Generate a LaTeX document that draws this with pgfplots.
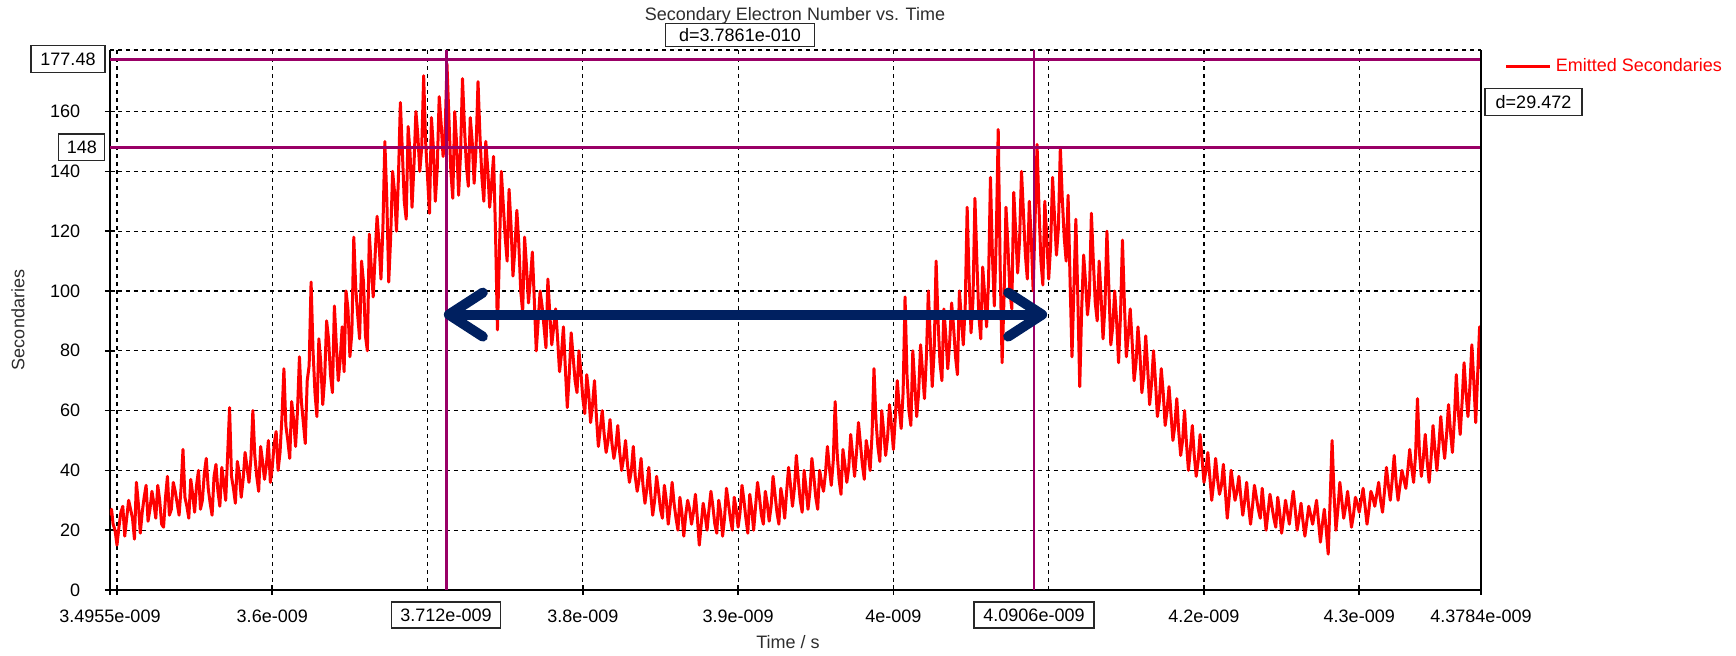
\documentclass[border=0pt]{standalone}
\usepackage{fontspec}
\setmainfont{Liberation Sans}
\usepackage{pgfplots}
\pgfplotsset{compat=1.18}
\usetikzlibrary{arrows.meta}
\definecolor{purp}{RGB}{153,0,102}
\definecolor{navyarrow}{RGB}{0,32,96}
\definecolor{labgray}{RGB}{45,45,45}
\definecolor{boxgray}{RGB}{40,40,40}
\begin{document}
\begin{tikzpicture}[font=\fontsize{9}{11}\selectfont]
\useasboundingbox (-55pt,-33pt) rectangle (813pt,295pt);
\begin{axis}[
 at={(0,0)}, anchor=south west,
 scale only axis, width=685.5pt, height=270pt,
 xmin=3.4955, xmax=4.3784, ymin=0, ymax=180.6,
 axis x line*=bottom, axis y line*=left,
 axis line style={black, line width=0.9pt},
 xtick={3.4955,3.5,3.6,3.8,3.9,4.0,4.2,4.3,4.3784},
 xticklabels={3.4955e-009,,3.6e-009,3.8e-009,3.9e-009,4e-009,4.2e-009,4.3e-009,4.3784e-009},
 ytick={0,20,40,60,80,100,120,140,160},
 yticklabels={0,20,40,60,80,100,120,140,160},
 extra x ticks={3.5,3.6,3.7,3.8,3.9,4.0,4.1,4.2,4.3},
 extra x tick labels={},
 extra x tick style={grid=major, major tick length=0pt},
 extra y ticks={180.6},
 extra y tick labels={},
 extra y tick style={grid=major, major tick length=0pt},
 ymajorgrids,
 grid style={black, line width=0.6pt, dash pattern=on 2.2pt off 1.8pt},
 tick align=center, major tick length=5pt,
 tick style={black, line width=0.8pt},
 xticklabel style={anchor=center, yshift=-10.5pt, text height=6.5pt, text depth=0pt, inner sep=0pt},
 yticklabel style={anchor=east, xshift=-12.2pt, inner sep=0pt},
 legend style={at={(1.0172,0.969)}, anchor=west, draw=none, fill=none, inner sep=0pt, text=red, font=\fontsize{9}{11}\selectfont},
 legend image code/.code={\draw[red, line width=1.4pt] (0pt,0pt) -- (22pt,0pt);},
 legend cell align=left,
]
\addplot[red, line width=1.5pt, line join=round] coordinates {
(3.4955,25) (3.4965,27) (3.4975,22) (3.49875,20) (3.5,15) (3.50125,21) (3.5025,26) (3.50375,28) (3.505,18) (3.50625,24) (3.5075,30) (3.50875,27) (3.51,24) (3.51125,17) (3.5125,36) (3.51375,29) (3.515,19) (3.51625,26) (3.5175,31) (3.51875,35) (3.52,23)
(3.52125,27) (3.5225,33) (3.52375,29) (3.525,24) (3.52625,35) (3.5275,30) (3.52875,22) (3.53,21) (3.53125,31) (3.5325,38) (3.53375,25) (3.535,27) (3.53625,36) (3.5375,33) (3.53875,29) (3.54,25) (3.54125,34) (3.5425,47) (3.54375,31) (3.545,28)
(3.54625,24) (3.5475,37) (3.54875,32) (3.55,26) (3.55125,35) (3.5525,40) (3.55375,27) (3.555,30) (3.55625,39) (3.5575,44) (3.55875,34) (3.56,29) (3.56125,25) (3.5625,38) (3.56375,42) (3.565,33) (3.56625,28) (3.5675,41) (3.56875,36) (3.57,30)
(3.57125,45) (3.5725,61) (3.57375,38) (3.575,34) (3.57625,29) (3.5775,43) (3.57875,39) (3.58,31) (3.58125,37) (3.5825,46) (3.58375,41) (3.585,36) (3.58625,44) (3.5875,60) (3.58875,45) (3.59,38) (3.59125,33) (3.5925,48) (3.59375,43) (3.595,37)
(3.59625,42) (3.5975,50) (3.59875,36) (3.6,41) (3.60125,49) (3.6025,53) (3.60375,40) (3.605,46) (3.60625,58) (3.6075,74) (3.60875,55) (3.61,50) (3.61125,44) (3.6125,63) (3.61375,57) (3.615,48) (3.61625,60) (3.6175,78) (3.61875,63) (3.62,56)
(3.62125,49) (3.6225,70) (3.62375,75) (3.625,103) (3.62625,80) (3.6275,66) (3.62875,58) (3.63,84) (3.63125,76) (3.6325,62) (3.63375,71) (3.635,90) (3.63625,84) (3.6375,72) (3.63875,66) (3.64,95) (3.64125,82) (3.6425,70) (3.64375,77) (3.645,88)
(3.64625,73) (3.6475,100) (3.64875,94) (3.65,78) (3.65125,86) (3.6525,118) (3.65375,101) (3.655,92) (3.65625,84) (3.6575,110) (3.65875,103) (3.66,85) (3.66125,80) (3.6625,119) (3.66375,108) (3.665,98) (3.66625,112) (3.6675,125) (3.66875,116) (3.67,104)
(3.67125,121) (3.6725,150) (3.67375,131) (3.675,103) (3.67625,118) (3.6775,140) (3.67875,133) (3.68,120) (3.68125,138) (3.6825,163) (3.68375,147) (3.685,130) (3.68625,124) (3.6875,155) (3.68875,146) (3.69,128) (3.69125,142) (3.6925,160) (3.69375,152) (3.695,140)
(3.69625,148) (3.6975,172) (3.69875,150) (3.7,138) (3.70125,126) (3.7025,158) (3.70375,148) (3.705,130) (3.70625,141) (3.7075,165) (3.70875,156) (3.71,145) (3.71125,152) (3.7125,176) (3.71375,158) (3.715,140) (3.71625,131) (3.7175,160) (3.71875,149) (3.72,132)
(3.72125,146) (3.7225,171) (3.72375,155) (3.725,142) (3.72625,135) (3.7275,158) (3.72875,150) (3.73,136) (3.73125,148) (3.7325,170) (3.73375,152) (3.735,138) (3.73625,130) (3.7375,150) (3.73875,141) (3.74,128) (3.74125,136) (3.7425,145) (3.74375,120) (3.745,87)
(3.74625,112) (3.7475,140) (3.74875,129) (3.75,118) (3.75125,110) (3.7525,134) (3.75375,122) (3.755,105) (3.75625,114) (3.7575,127) (3.75875,116) (3.76,100) (3.76125,93) (3.7625,118) (3.76375,108) (3.765,96) (3.76625,104) (3.7675,113) (3.76875,97) (3.77,80)
(3.77125,90) (3.7725,100) (3.77375,95) (3.775,88) (3.77625,81) (3.7775,104) (3.77875,92) (3.78,82) (3.78125,88) (3.7825,94) (3.78375,84) (3.785,73) (3.78625,79) (3.7875,88) (3.78875,74) (3.79,61) (3.79125,72) (3.7925,86) (3.79375,78) (3.795,70)
(3.79625,66) (3.7975,80) (3.79875,73) (3.8,64) (3.80125,59) (3.8025,72) (3.80375,66) (3.805,56) (3.80625,62) (3.8075,70) (3.80875,58) (3.81,48) (3.81125,54) (3.8125,60) (3.81375,52) (3.815,46) (3.81625,50) (3.8175,57) (3.81875,49) (3.82,44)
(3.82125,48) (3.8225,55) (3.82375,46) (3.825,40) (3.82625,44) (3.8275,50) (3.82875,42) (3.83,36) (3.83125,40) (3.8325,48) (3.83375,38) (3.835,33) (3.83625,37) (3.8375,44) (3.83875,35) (3.84,29) (3.84125,34) (3.8425,41) (3.84375,32) (3.845,25)
(3.84625,30) (3.8475,38) (3.84875,33) (3.85,27) (3.85125,24) (3.8525,35) (3.85375,30) (3.855,22) (3.85625,28) (3.8575,36) (3.85875,29) (3.86,24) (3.86125,20) (3.8625,31) (3.86375,26) (3.865,18) (3.86625,25) (3.8675,30) (3.86875,27) (3.87,22)
(3.87125,26) (3.8725,32) (3.87375,24) (3.875,15) (3.87625,22) (3.8775,29) (3.87875,25) (3.88,20) (3.88125,27) (3.8825,33) (3.88375,28) (3.885,22) (3.88625,19) (3.8875,30) (3.88875,26) (3.89,18) (3.89125,24) (3.8925,34) (3.89375,29) (3.895,24)
(3.89625,20) (3.8975,31) (3.89875,27) (3.9,21) (3.90125,26) (3.9025,35) (3.90375,30) (3.905,24) (3.90625,19) (3.9075,32) (3.90875,27) (3.91,20) (3.91125,28) (3.9125,36) (3.91375,31) (3.915,25) (3.91625,22) (3.9175,33) (3.91875,29) (3.92,23)
(3.92125,28) (3.9225,38) (3.92375,32) (3.925,26) (3.92625,22) (3.9275,34) (3.92875,30) (3.93,24) (3.93125,33) (3.9325,41) (3.93375,35) (3.935,28) (3.93625,34) (3.9375,45) (3.93875,37) (3.94,30) (3.94125,26) (3.9425,40) (3.94375,34) (3.945,27)
(3.94625,33) (3.9475,44) (3.94875,38) (3.95,31) (3.95125,27) (3.9525,40) (3.95375,36) (3.955,33) (3.95625,39) (3.9575,48) (3.95875,41) (3.96,35) (3.96125,43) (3.9625,63) (3.96375,46) (3.965,37) (3.96625,32) (3.9675,47) (3.96875,42) (3.97,36)
(3.97125,41) (3.9725,52) (3.97375,45) (3.975,38) (3.97625,46) (3.9775,56) (3.97875,49) (3.98,42) (3.98125,37) (3.9825,50) (3.98375,46) (3.985,40) (3.98625,52) (3.9875,74) (3.98875,57) (3.99,48) (3.99125,43) (3.9925,60) (3.99375,53) (3.995,45)
(3.99625,51) (3.9975,62) (3.99875,55) (4.0,47) (4.00125,58) (4.0025,70) (4.00375,61) (4.005,54) (4.00625,66) (4.0075,98) (4.00875,72) (4.01,60) (4.01125,55) (4.0125,80) (4.01375,69) (4.015,58) (4.01625,66) (4.0175,82) (4.01875,73) (4.02,64)
(4.02125,78) (4.0225,100) (4.02375,84) (4.025,68) (4.02625,80) (4.0275,110) (4.02875,90) (4.03,76) (4.03125,70) (4.0325,94) (4.03375,85) (4.035,74) (4.03625,83) (4.0375,96) (4.03875,88) (4.04,78) (4.04125,72) (4.0425,100) (4.04375,91) (4.045,82)
(4.04625,95) (4.0475,128) (4.04875,104) (4.05,86) (4.05125,97) (4.0525,131) (4.05375,110) (4.055,92) (4.05625,84) (4.0575,108) (4.05875,99) (4.06,88) (4.06125,103) (4.0625,138) (4.06375,112) (4.065,95) (4.06625,118) (4.0675,154) (4.06875,108) (4.07,76)
(4.07125,98) (4.0725,128) (4.07375,115) (4.075,100) (4.07625,94) (4.0775,133) (4.07875,120) (4.08,106) (4.08125,117) (4.0825,140) (4.08375,126) (4.085,112) (4.08625,104) (4.0875,130) (4.08875,118) (4.09,100) (4.09125,124) (4.0925,149) (4.09375,128) (4.095,110)
(4.09625,102) (4.0975,130) (4.09875,118) (4.1,104) (4.10125,115) (4.1025,138) (4.10375,125) (4.105,112) (4.10625,121) (4.1075,148) (4.10875,131) (4.11,118) (4.11125,110) (4.1125,132) (4.11375,104) (4.115,78) (4.11625,101) (4.1175,124) (4.11875,98) (4.12,68)
(4.12125,94) (4.1225,112) (4.12375,103) (4.125,92) (4.12625,99) (4.1275,126) (4.12875,110) (4.13,96) (4.13125,90) (4.1325,110) (4.13375,98) (4.135,84) (4.13625,95) (4.1375,120) (4.13875,101) (4.14,82) (4.14125,88) (4.1425,100) (4.14375,90) (4.145,76)
(4.14625,92) (4.1475,117) (4.14875,96) (4.15,78) (4.15125,85) (4.1525,94) (4.15375,83) (4.155,70) (4.15625,76) (4.1575,88) (4.15875,79) (4.16,66) (4.16125,72) (4.1625,85) (4.16375,74) (4.165,62) (4.16625,69) (4.1675,80) (4.16875,70) (4.17,58)
(4.17125,63) (4.1725,74) (4.17375,66) (4.175,55) (4.17625,60) (4.1775,68) (4.17875,59) (4.18,50) (4.18125,55) (4.1825,64) (4.18375,53) (4.185,45) (4.18625,50) (4.1875,60) (4.18875,49) (4.19,40) (4.19125,47) (4.1925,55) (4.19375,45) (4.195,38)
(4.19625,43) (4.1975,52) (4.19875,44) (4.2,36) (4.20125,40) (4.2025,46) (4.20375,38) (4.205,30) (4.20625,36) (4.2075,44) (4.20875,37) (4.21,32) (4.21125,35) (4.2125,42) (4.21375,33) (4.215,24) (4.21625,31) (4.2175,40) (4.21875,35) (4.22,30)
(4.22125,33) (4.2225,38) (4.22375,31) (4.225,25) (4.22625,30) (4.2275,36) (4.22875,28) (4.23,22) (4.23125,28) (4.2325,35) (4.23375,31) (4.235,27) (4.23625,24) (4.2375,34) (4.23875,27) (4.24,20) (4.24125,26) (4.2425,32) (4.24375,28) (4.245,24)
(4.24625,21) (4.2475,31) (4.24875,26) (4.25,19) (4.25125,24) (4.2525,30) (4.25375,26) (4.255,22) (4.25625,28) (4.2575,33) (4.25875,27) (4.26,20) (4.26125,24) (4.2625,29) (4.26375,23) (4.265,18) (4.26625,23) (4.2675,28) (4.26875,25) (4.27,22)
(4.27125,26) (4.2725,30) (4.27375,23) (4.275,16) (4.27625,22) (4.2775,27) (4.27875,20) (4.28,12) (4.28125,30) (4.2825,50) (4.28375,32) (4.285,20) (4.28625,27) (4.2875,36) (4.28875,30) (4.29,24) (4.29125,28) (4.2925,33) (4.29375,27) (4.295,21)
(4.29625,25) (4.2975,31) (4.29875,29) (4.3,26) (4.30125,30) (4.3025,34) (4.30375,28) (4.305,22) (4.30625,27) (4.3075,33) (4.30875,31) (4.31,28) (4.31125,32) (4.3125,36) (4.31375,30) (4.315,26) (4.31625,33) (4.3175,41) (4.31875,35) (4.32,30)
(4.32125,37) (4.3225,45) (4.32375,36) (4.325,30) (4.32625,35) (4.3275,40) (4.32875,37) (4.33,34) (4.33125,40) (4.3325,47) (4.33375,41) (4.335,36) (4.33625,45) (4.3375,64) (4.33875,46) (4.34,38) (4.34125,44) (4.3425,52) (4.34375,43) (4.345,36)
(4.34625,44) (4.3475,55) (4.34875,47) (4.35,40) (4.35125,48) (4.3525,58) (4.35375,50) (4.355,44) (4.35625,52) (4.3575,62) (4.35875,53) (4.36,46) (4.36125,57) (4.3625,72) (4.36375,60) (4.365,52) (4.36625,63) (4.3675,76) (4.36875,66) (4.37,58)
(4.37125,68) (4.3725,82) (4.37375,70) (4.375,56) (4.37625,72) (4.3775,88) (4.3781,80) (4.3784,74)
};
\addlegendentry{Emitted Secondaries}
\addplot[purp, line width=1.4pt, forget plot] coordinates {(3.712,0) (3.712,180.6)};
\addplot[purp, line width=1.4pt, forget plot] coordinates {(4.0906,0) (4.0906,180.6)};
\addplot[purp, line width=1.4pt, forget plot] coordinates {(3.4955,177.48) (4.3784,177.48)};
\addplot[purp, line width=1.4pt, forget plot] coordinates {(3.4955,148) (4.3784,148)};
\addplot[navyarrow, line width=5pt, forget plot,
  arrows={Straight Barb[length=17pt,width=22pt,round]-Straight Barb[length=17pt,width=22pt,round]}]
  coordinates {(3.7105,92.1) (4.0990,92.1)};
\end{axis}
\draw[black, line width=0.9pt] (685.5pt,0pt) -- (685.5pt,270pt);
\node[text=labgray] at (342.5pt,287pt) {Secondary Electron Number vs. Time};
\node[rotate=90, text=labgray] at (-46pt,135pt) {Secondaries};
\node[text=labgray] at (339pt,-26pt) {Time / s};
\tikzset{bx/.style={draw=boxgray, fill=white, line width=0.6pt, inner sep=0pt, text height=6.5pt, text depth=0pt, align=center}}
\node[bx, minimum width=74.5pt, minimum height=11.5pt] at (315pt,277.5pt) {d=3.7861e-010};
\node[bx, minimum width=37pt, minimum height=13.5pt] at (-21pt,265.3pt) {177.48};
\node[bx, minimum width=23pt, minimum height=13.3pt] at (-14.1pt,221.3pt) {148};
\node[bx, minimum width=54.5pt, minimum height=13pt] at (168pt,-12.5pt) {3.712e-009};
\node[bx, minimum width=60pt, minimum height=13pt] at (462pt,-12.5pt) {4.0906e-009};
\node[bx, minimum width=48.5pt, minimum height=13.8pt] at (711.75pt,244pt) {d=29.472};
\end{tikzpicture}
\end{document}
